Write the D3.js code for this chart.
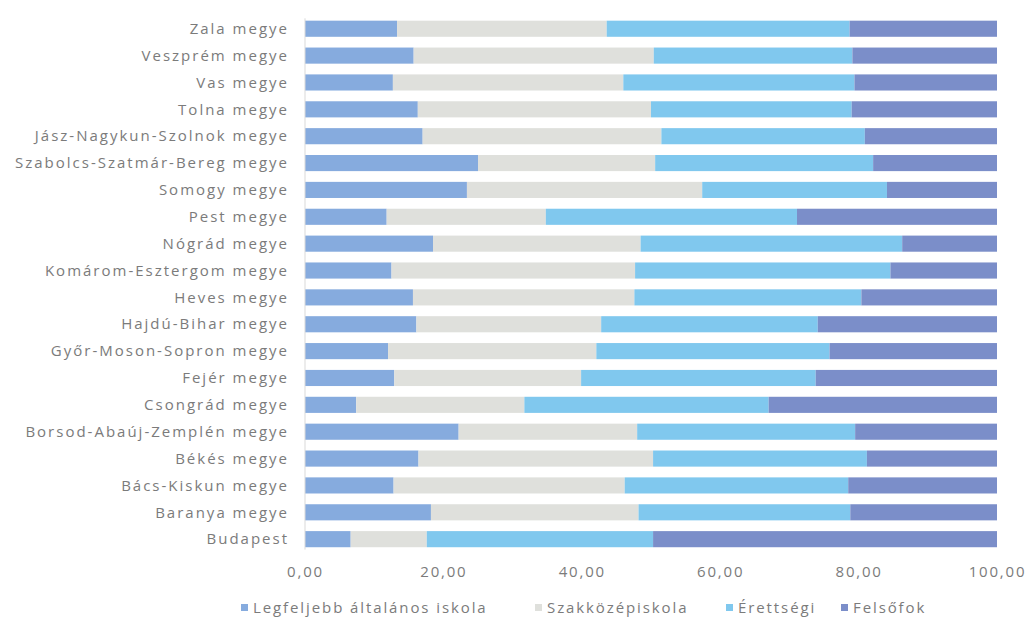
<!DOCTYPE html>
<html>
<head>
<meta charset="utf-8">
<script src="https://cdn.jsdelivr.net/npm/d3@7"></script>
<style>
  html, body { margin: 0; padding: 0; background: #ffffff; }
  svg { display: block; }
  text { font-family: "Open Sans", "Noto Sans", sans-serif; fill: #7b7b7b; }
</style>
</head>
<body>
<svg id="chart" width="1033" height="639"></svg>
<script>
// Categories, top to bottom as displayed
const categories = [
  "Zala megye", "Veszprém megye", "Vas megye", "Tolna megye",
  "Jász-Nagykun-Szolnok megye", "Szabolcs-Szatmár-Bereg megye", "Somogy megye",
  "Pest megye", "Nógrád megye", "Komárom-Esztergom megye", "Heves megye",
  "Hajdú-Bihar megye", "Győr-Moson-Sopron megye", "Fejér megye", "Csongrád megye",
  "Borsod-Abaúj-Zemplén megye", "Békés megye", "Bács-Kiskun megye",
  "Baranya megye", "Budapest"
];
const seriesNames = ["Legfeljebb általános iskola", "Szakközépiskola", "Érettségi", "Felsőfok"];
const altalanos   = [13.3, 15.7, 12.7, 16.3, 17.0, 25.0, 23.4, 11.8, 18.5, 12.5, 15.6, 16.1, 12.0, 12.9, 7.4, 22.2, 16.4, 12.8, 18.2, 6.6];
const szakkozep   = [30.3, 34.7, 33.3, 33.7, 34.5, 25.6, 34.0, 23.0, 30.0, 35.2, 32.0, 26.7, 30.1, 27.0, 24.3, 25.8, 33.9, 33.4, 30.0, 11.0];
const erettsegi   = [35.1, 28.7, 33.4, 29.0, 29.4, 31.5, 26.7, 36.3, 37.8, 36.9, 32.8, 31.3, 33.7, 33.9, 35.3, 31.5, 30.9, 32.3, 30.6, 32.7];
const felsofok    = [21.3, 20.9, 20.6, 21.0, 19.1, 17.9, 15.9, 28.9, 13.7, 15.4, 19.6, 25.9, 24.2, 26.2, 33.0, 20.5, 18.8, 21.5, 21.2, 49.7];
const tickValues  = [0, 20, 40, 60, 80, 100];
const colors = ["#86abde", "#dfe0dc", "#80c8ee", "#7b8ec9"];

const rows = categories.map((c, i) => ({
  cat: c,
  [seriesNames[0]]: altalanos[i],
  [seriesNames[1]]: szakkozep[i],
  [seriesNames[2]]: erettsegi[i],
  [seriesNames[3]]: felsofok[i]
}));

const svg = d3.select("#chart");
const x = d3.scaleLinear().domain([0, 100]).range([305, 997]);
const y = d3.scaleBand().domain(categories).range([15.3, 552.6]).paddingInner(0.4).paddingOuter(0.2);
const color = d3.scaleOrdinal().domain(seriesNames).range(colors);

const stacked = d3.stack().keys(seriesNames)(rows);

svg.append("g").selectAll("g")
  .data(stacked)
  .join("g")
  .attr("fill", d => color(d.key))
  .selectAll("rect")
  .data(d => d)
  .join("rect")
  .attr("x", d => x(d[0]))
  .attr("width", d => x(d[1]) - x(d[0]))
  .attr("y", d => y(d.data.cat))
  .attr("height", y.bandwidth());

// Category axis
const yAxis = svg.append("g")
  .attr("transform", `translate(${x(0)},0)`)
  .call(d3.axisLeft(y).tickSize(0).tickPadding(16));
yAxis.select(".domain").attr("stroke", "#d9d9d9").attr("d", `M0,${y.range()[0] + 3}V${y.range()[1] - 3}`);
yAxis.selectAll("text")
  .style("font-size", "15px")
  .style("letter-spacing", "2px")
  .attr("fill", "#7b7b7b")
  .attr("dy", "0.35em");

// Value axis (labels only)
const fmt = v => d3.format(".2f")(v).replace(".", ",");
const xAxis = svg.append("g")
  .attr("transform", `translate(0,${578})`)
  .call(d3.axisBottom(x).tickValues(tickValues).tickFormat(fmt).tickSize(0).tickPadding(0));
xAxis.select(".domain").remove();
xAxis.selectAll("text")
  .style("font-size", "15px")
  .style("letter-spacing", "1.8px")
  .attr("fill", "#7b7b7b")
  .attr("dy", "-0.05em");

// Legend
const legendItems = [
  { name: seriesNames[0], x: 241 },
  { name: seriesNames[1], x: 535 },
  { name: seriesNames[2], x: 726 },
  { name: seriesNames[3], x: 841 }
];
const lg = svg.append("g").selectAll("g").data(legendItems).join("g")
  .attr("transform", d => `translate(${d.x},608)`);
lg.append("rect").attr("x", 0).attr("y", -4).attr("width", 7).attr("height", 7)
  .attr("fill", d => color(d.name));
lg.append("text").attr("x", 12).attr("y", 0).attr("dy", "0.35em")
  .style("font-size", "15px").style("letter-spacing", "1.9px")
  .text(d => d.name);
</script>
</body>
</html>
